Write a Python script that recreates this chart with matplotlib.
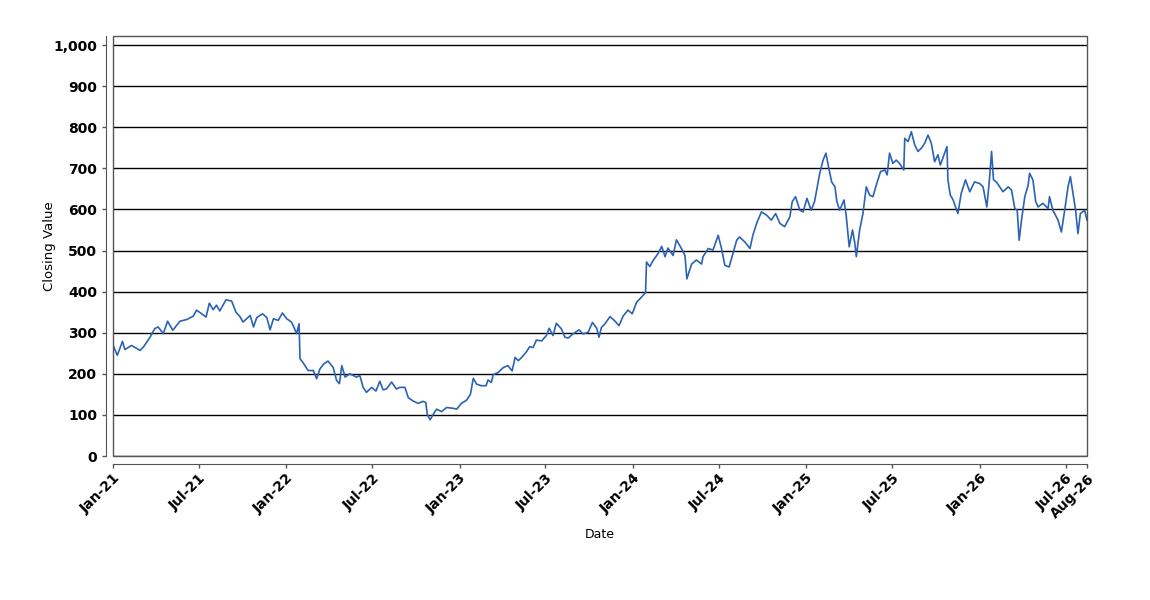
import matplotlib
matplotlib.use("Agg")
import matplotlib.pyplot as plt
import matplotlib.ticker as mticker
from matplotlib.patches import Rectangle
import pandas as pd

# closing values, roughly weekly
dates = [
    "2021-01-01", "2021-01-10", "2021-01-21", "2021-01-26", "2021-02-09", "2021-02-27",
    "2021-03-06", "2021-03-20", "2021-03-30", "2021-04-06", "2021-04-17", "2021-04-26",
    "2021-05-07", "2021-05-22", "2021-06-05", "2021-06-19", "2021-06-26", "2021-07-07",
    "2021-07-16", "2021-07-23", "2021-07-31", "2021-08-07", "2021-08-14", "2021-08-27",
    "2021-09-08", "2021-09-17", "2021-09-25", "2021-10-02", "2021-10-17", "2021-10-24",
    "2021-10-31", "2021-11-12", "2021-11-21", "2021-11-28", "2021-12-05", "2021-12-15",
    "2021-12-24", "2022-01-02", "2022-01-12", "2022-01-23", "2022-01-28", "2022-01-30",
    "2022-02-06", "2022-02-16", "2022-02-27", "2022-03-06", "2022-03-13", "2022-03-21",
    "2022-03-30", "2022-04-10", "2022-04-17", "2022-04-23", "2022-04-28", "2022-05-05",
    "2022-05-15", "2022-05-29", "2022-06-05", "2022-06-12", "2022-06-19", "2022-06-30",
    "2022-07-09", "2022-07-17", "2022-07-24", "2022-07-31", "2022-08-11", "2022-08-21",
    "2022-08-28", "2022-09-08", "2022-09-15", "2022-09-25", "2022-10-06", "2022-10-16",
    "2022-10-22", "2022-10-25", "2022-10-31", "2022-11-07", "2022-11-14", "2022-11-24",
    "2022-12-05", "2022-12-19", "2022-12-26", "2023-01-05", "2023-01-16", "2023-01-24",
    "2023-01-30", "2023-02-06", "2023-02-16", "2023-02-26", "2023-03-02", "2023-03-09",
    "2023-03-13", "2023-03-23", "2023-04-03", "2023-04-13", "2023-04-22", "2023-04-28",
    "2023-05-05", "2023-05-12", "2023-05-21", "2023-05-29", "2023-06-05", "2023-06-12",
    "2023-06-23", "2023-07-03", "2023-07-09", "2023-07-17", "2023-07-24", "2023-08-04",
    "2023-08-11", "2023-08-18", "2023-08-28", "2023-09-10", "2023-09-18", "2023-09-29",
    "2023-10-08", "2023-10-17", "2023-10-22", "2023-10-27", "2023-11-03", "2023-11-14",
    "2023-11-24", "2023-12-03", "2023-12-12", "2023-12-22", "2023-12-31", "2024-01-09",
    "2024-01-19", "2024-01-28", "2024-01-30", "2024-02-06", "2024-02-13", "2024-02-23",
    "2024-03-02", "2024-03-09", "2024-03-15", "2024-03-26", "2024-04-02", "2024-04-13",
    "2024-04-20", "2024-04-24", "2024-05-04", "2024-05-14", "2024-05-25", "2024-05-28",
    "2024-06-08", "2024-06-18", "2024-06-29", "2024-07-06", "2024-07-13", "2024-07-22",
    "2024-07-30", "2024-08-07", "2024-08-13", "2024-08-24", "2024-09-04", "2024-09-10",
    "2024-09-18", "2024-09-28", "2024-10-09", "2024-10-19", "2024-10-28", "2024-11-06",
    "2024-11-16", "2024-11-27", "2024-12-02", "2024-12-09", "2024-12-18", "2024-12-25",
    "2025-01-02", "2025-01-11", "2025-01-18", "2025-01-29", "2025-02-05", "2025-02-11",
    "2025-02-15", "2025-02-23", "2025-03-02", "2025-03-06", "2025-03-12", "2025-03-21",
    "2025-03-26", "2025-04-01", "2025-04-08", "2025-04-13", "2025-04-16", "2025-04-23",
    "2025-04-30", "2025-05-07", "2025-05-14", "2025-05-21", "2025-05-28", "2025-06-06",
    "2025-06-15", "2025-06-20", "2025-06-25", "2025-07-02", "2025-07-09", "2025-07-16",
    "2025-07-25", "2025-07-27", "2025-08-03", "2025-08-10", "2025-08-17", "2025-08-24",
    "2025-08-31", "2025-09-07", "2025-09-14", "2025-09-21", "2025-09-28", "2025-10-05",
    "2025-10-10", "2025-10-19", "2025-10-24", "2025-10-26", "2025-10-31", "2025-11-06",
    "2025-11-11", "2025-11-16", "2025-11-23", "2025-12-02", "2025-12-11", "2025-12-21",
    "2026-01-01", "2026-01-08", "2026-01-16", "2026-01-21", "2026-01-26", "2026-01-30",
    "2026-02-05", "2026-02-12", "2026-02-19", "2026-03-02", "2026-03-09", "2026-03-16",
    "2026-03-21", "2026-03-25", "2026-03-30", "2026-04-06", "2026-04-13", "2026-04-16",
    "2026-04-23", "2026-04-29", "2026-05-04", "2026-05-14", "2026-05-25", "2026-05-28",
    "2026-06-04", "2026-06-15", "2026-06-22", "2026-06-29", "2026-07-06", "2026-07-11",
    "2026-07-16", "2026-07-22", "2026-07-27", "2026-08-01", "2026-08-10", "2026-08-15",
]
closing = [
    270, 245, 279, 259, 269, 257,
    265, 289, 310, 314, 298, 328,
    306, 328, 332, 340, 355, 346,
    338, 372, 356, 367, 353, 380,
    377, 350, 340, 326, 342, 314,
    337, 346, 337, 307, 334, 330,
    348, 334, 326, 298, 322, 237,
    226, 208, 208, 188, 212, 224,
    231, 215, 184, 176, 220, 192,
    200, 192, 196, 167, 155, 167,
    158, 182, 161, 163, 180, 163,
    167, 167, 142, 134, 128, 133,
    130, 102, 88, 102, 114, 108,
    118, 116, 114, 128, 136, 150,
    189, 175, 171, 171, 185, 179,
    198, 203, 215, 220, 207, 240,
    232, 240, 252, 266, 264, 282,
    280, 293, 311, 293, 323, 309,
    289, 287, 297, 307, 297, 301,
    325, 311, 289, 313, 321, 339,
    329, 317, 341, 355, 346, 374,
    386, 398, 472, 461, 476, 492,
    510, 485, 506, 488, 526, 504,
    488, 431, 467, 477, 467, 485,
    505, 501, 537, 505, 464, 460,
    493, 525, 533, 521, 505, 537,
    566, 594, 586, 574, 590, 566,
    558, 582, 619, 631, 598, 594,
    627, 598, 619, 688, 720, 737,
    712, 667, 655, 619, 598, 623,
    582, 509, 550, 517, 485, 550,
    590, 655, 635, 631, 659, 692,
    696, 684, 737, 712, 720, 712,
    696, 773, 765, 789, 757, 741,
    749, 761, 781, 761, 716, 733,
    708, 737, 753, 672, 635, 623,
    606, 590, 639, 672, 643, 667,
    663, 655, 606, 667, 741, 672,
    667, 655, 643, 655, 647, 602,
    598, 525, 574, 631, 659, 688,
    672, 619, 606, 615, 602, 631,
    598, 574, 545, 598, 655, 680,
    643, 598, 541, 590, 598, 574,
]

tick_dates = ["2021-01-01", "2021-07-01", "2022-01-01", "2022-07-01", "2023-01-01",
              "2023-07-01", "2024-01-01", "2024-07-01", "2025-01-01", "2025-07-01",
              "2026-01-01", "2026-07-01", "2026-08-15"]
tick_labels = ["Jan-21", "Jul-21", "Jan-22", "Jul-22", "Jan-23", "Jul-23", "Jan-24",
               "Jul-24", "Jan-25", "Jul-25", "Jan-26", "Jul-26", "Aug-26"]

x = pd.to_datetime(dates)
ticks = pd.to_datetime(tick_dates)

fig = plt.figure(figsize=(11.5, 6), dpi=100)
ax = fig.add_axes([113 / 1150, 1 - 456 / 600, 974 / 1150, 420 / 600])

ax.plot(x, closing, color="#2b63b4", linewidth=1.2)

ax.set_xlim(ticks[0], ticks[-1])
ax.set_ylim(0, 1022)
ax.yaxis.set_major_locator(mticker.MultipleLocator(100))
ax.yaxis.set_major_formatter(mticker.FuncFormatter(lambda v, p: f"{int(v):,}"))
ax.set_xticks(ticks)
ax.set_xticklabels(tick_labels)

ax.grid(axis="y", color="black", linewidth=1)
ax.set_axisbelow(True)

frame = "#555555"
for side in ["top", "right"]:
    ax.spines[side].set_visible(False)
ax.spines["left"].set_position(("outward", 5))
ax.spines["bottom"].set_position(("outward", 6))
ax.spines["left"].set_color(frame)
ax.spines["bottom"].set_color(frame)
ax.add_patch(Rectangle((0, 0), 1, 1, transform=ax.transAxes, fill=False,
                       edgecolor=frame, linewidth=1, clip_on=False, zorder=3))

ax.tick_params(axis="both", colors=frame, length=3, width=1, labelcolor="black",
               labelsize=10)
ax.tick_params(axis="x", labelrotation=45, pad=2)
for lab in ax.get_xticklabels():
    lab.set_horizontalalignment("right")
    lab.set_rotation_mode("anchor")
    lab.set_fontweight("bold")
for lab in ax.get_yticklabels():
    lab.set_fontweight("bold")

ax.set_xlabel("Date", fontsize=9, va="center")
ax.set_ylabel("Closing Value", fontsize=9.5, va="center")
ax.xaxis.set_label_coords(0.5, -0.188)
ax.yaxis.set_label_coords(-0.0647, 0.5)

fig.savefig("out.png", dpi=100)
